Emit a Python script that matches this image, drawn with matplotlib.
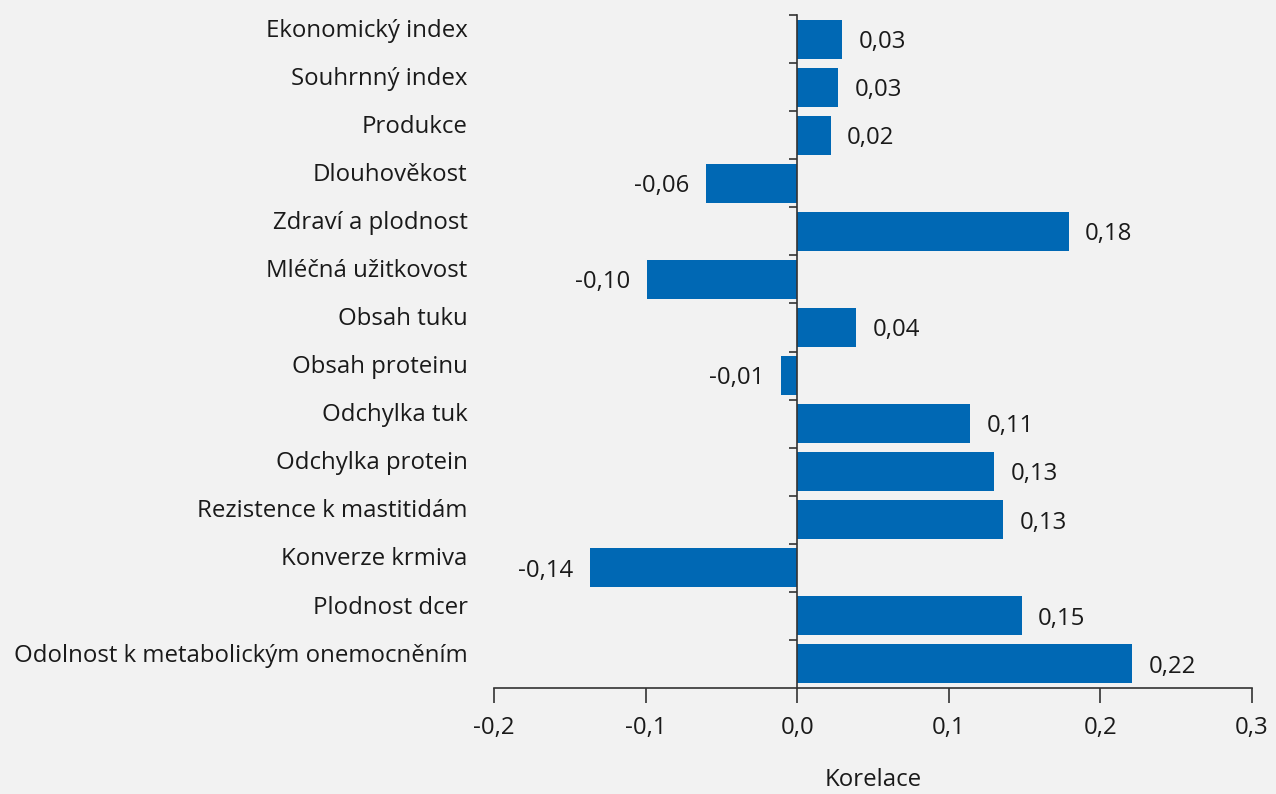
import matplotlib
matplotlib.use("Agg")
import matplotlib.pyplot as plt
import numpy as np

categories = ["Ekonomický index", "Souhrnný index", "Produkce", "Dlouhověkost",
              "Zdraví a plodnost", "Mléčná užitkovost", "Obsah tuku", "Obsah proteinu",
              "Odchylka tuk", "Odchylka protein", "Rezistence k mastitidám",
              "Konverze krmiva", "Plodnost dcer", "Odolnost k metabolickým onemocněním"]
values = [0.0296, 0.027, 0.022, -0.060, 0.179, -0.099, 0.039, -0.011,
          0.114, 0.130, 0.136, -0.137, 0.148, 0.221]
value_labels = ["0,03", "0,03", "0,02", "-0,06", "0,18", "-0,10", "0,04", "-0,01",
                "0,11", "0,13", "0,13", "-0,14", "0,15", "0,22"]
xticks = [-0.2, -0.1, 0.0, 0.1, 0.2, 0.3]
xtick_labels = ["-0,2", "-0,1", "0,0", "0,1", "0,2", "0,3"]

plt.rcParams['font.family'] = ['Open Sans', 'DejaVu Sans']
BG = "#f2f2f2"
BLUE = "#0068b4"
TXT = "#1a1a1a"
FS = 17.3

fig = plt.figure(figsize=(12.76, 7.94), dpi=100, facecolor=BG)
W, H = 1276, 794
ax = fig.add_axes([494 / W, 1 - 688 / H, (1252 - 494) / W, (688 - 15) / H])
ax.set_facecolor(BG)

y = np.arange(len(categories))
ax.barh(y, values, height=0.81, color=BLUE, zorder=2)
ax.set_xlim(-0.2, 0.3)
ax.set_ylim(len(categories) - 0.5, -0.5)

for s in ["top", "right"]:
    ax.spines[s].set_visible(False)
ax.spines["left"].set_position(("data", 0))
ax.spines["left"].set_color("#333333")
ax.spines["bottom"].set_color("#333333")
ax.spines["left"].set_linewidth(1.2)
ax.spines["bottom"].set_linewidth(1.2)

ax.set_yticks(np.arange(-0.5, len(categories) - 0.5, 1.0))
ax.set_yticklabels([])
ax.tick_params(axis="y", length=6, width=1.2, color="#333333")
ax.set_xticks(xticks)
ax.set_xticklabels(xtick_labels, fontsize=FS, color=TXT)
ax.tick_params(axis="x", length=11, width=1.2, color="#333333", pad=9)
ax.set_xlabel("Korelace", fontsize=FS, color=TXT, labelpad=20)

for i, (cat, v, lab) in enumerate(zip(categories, values, value_labels)):
    ax.annotate(cat, xy=(0, i), xycoords=("axes fraction", "data"),
                xytext=(-19, 6), textcoords="offset points",
                ha="right", va="center", fontsize=FS, color=TXT)
    if v >= 0:
        ax.annotate(lab, xy=(v, i), xytext=(12, -2), textcoords="offset points",
                    ha="left", va="center", fontsize=FS, color=TXT)
    else:
        ax.annotate(lab, xy=(v, i), xytext=(-12, -2), textcoords="offset points",
                    ha="right", va="center", fontsize=FS, color=TXT)

fig.savefig("out.png", dpi=100, facecolor=BG)
